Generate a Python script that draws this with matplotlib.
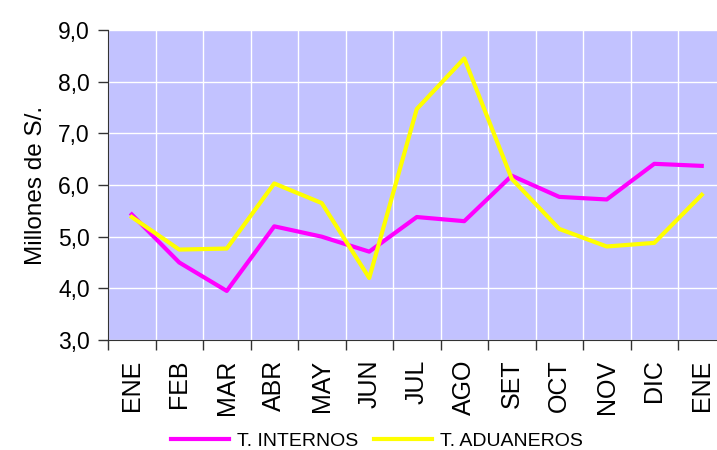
import numpy as np
import matplotlib
matplotlib.use("Agg")
import matplotlib.pyplot as plt
from matplotlib.ticker import FixedLocator, FuncFormatter

plt.rcParams['font.family'] = ['Liberation Sans', 'DejaVu Sans']

meses = ['ENE', 'FEB', 'MAR', 'ABR', 'MAY', 'JUN', 'JUL',
         'AGO', 'SET', 'OCT', 'NOV', 'DIC', 'ENE']
internos = [5.43, 4.50, 3.95, 5.20, 5.00, 4.71, 5.38,
            5.30, 6.18, 5.77, 5.72, 6.41, 6.37]
aduaneros = [5.38, 4.75, 4.77, 6.03, 5.65, 4.20, 7.47,
             8.45, 6.12, 5.15, 4.81, 4.88, 5.81]

fig = plt.figure(figsize=(7.17, 4.5), dpi=100)
# the plot area runs a bit past the right edge of the picture
ax = fig.add_axes([108 / 717, 110 / 450, 617.5 / 717, 310 / 450])
ax.set_facecolor('#c2c2ff')

x = np.arange(len(meses))
ax.plot(x, internos, color='#ff00ff', lw=3, label='T. INTERNOS', zorder=3)
ax.plot(x, aduaneros, color='#ffff00', lw=3, label='T. ADUANEROS', zorder=3)

ax.set_xlim(-0.5, len(meses) - 0.5)
ax.set_ylim(3, 9)
ax.set_yticks(np.arange(3, 9.1, 1))
ax.yaxis.set_major_formatter(FuncFormatter(lambda v, p: f'{v:.1f}'.replace('.', ',')))

# labels at the centres, tick marks and grid at the boundaries
ax.set_xticks(x)
ax.set_xticklabels(meses, rotation=90, fontsize=18)
ax.xaxis.set_minor_locator(FixedLocator(np.arange(-0.5, len(meses), 1)))
ax.tick_params(axis='x', which='major', length=0, pad=14)
ax.tick_params(axis='x', which='minor', length=7, width=1, color='#333333', direction='out')
ax.tick_params(axis='y', length=7, width=1, color='#333333', labelsize=16.5, pad=6)

ax.grid(True, axis='x', which='minor', color='white', lw=1)
ax.grid(True, axis='y', which='major', color='white', lw=1)
ax.set_axisbelow(True)

for s in ['top', 'right']:
    ax.spines[s].set_visible(False)
ax.spines['left'].set_color('#333333')
ax.spines['bottom'].set_color('#333333')

ax.set_ylabel('Millones de S/.', fontsize=17.5, labelpad=8)

fig.legend(loc='center', bbox_to_anchor=(377 / 717, 1 - 441 / 450), ncol=2,
           frameon=False, fontsize=14, handlelength=3.0, handletextpad=0.4,
           columnspacing=0.8)

fig.savefig('out.png', dpi=100)
